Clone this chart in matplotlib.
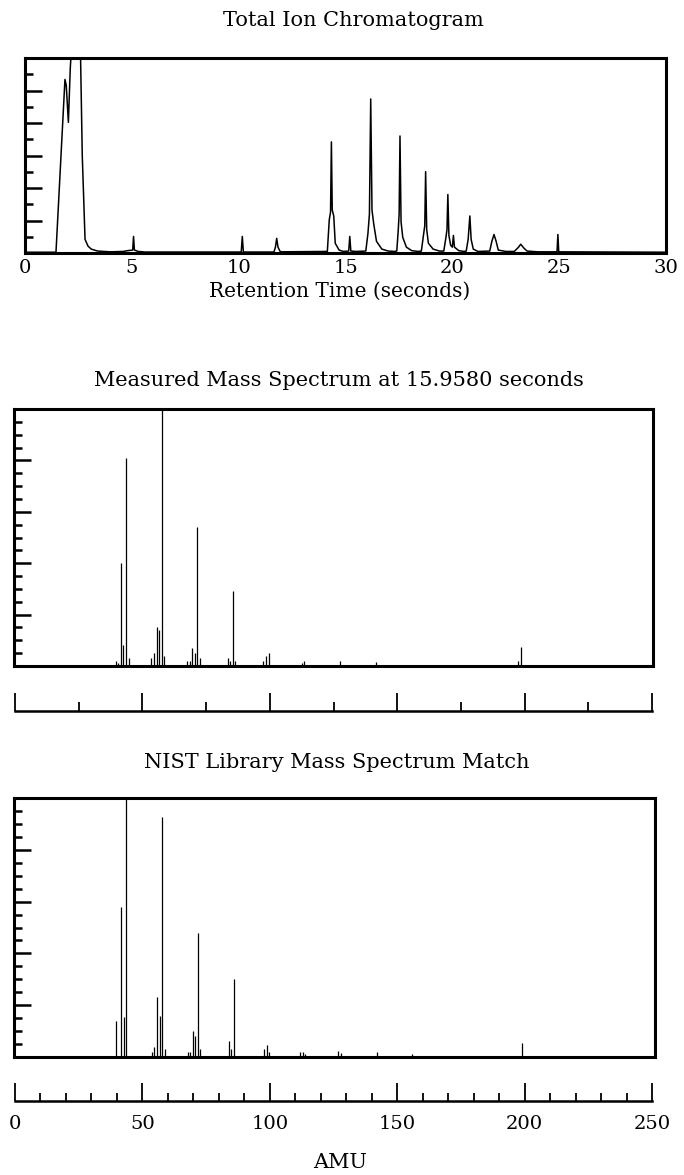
import matplotlib
matplotlib.use("Agg")
import matplotlib.pyplot as plt

# ---------------- data ----------------
# Total ion chromatogram trace (retention time in s, relative intensity)
tic_time = [0.0, 1.45, 1.87, 1.93, 2.03, 2.12, 2.26, 2.57, 2.68, 2.81, 2.95, 3.1, 3.4, 4.0,
            4.6, 4.8, 5.04, 5.08, 5.12, 5.3, 5.6,
            10.12, 10.17, 10.22,
            11.65, 11.72, 11.78, 11.84, 11.95,
            14.15, 14.24, 14.3, 14.34, 14.38, 14.45, 14.52, 14.7, 14.9,
            15.15, 15.2, 15.25, 15.5,
            15.95, 16.05, 16.12, 16.18, 16.24, 16.32, 16.45, 16.7, 17.0, 17.3,
            17.4, 17.47, 17.51, 17.55, 17.6, 17.68, 17.85, 18.1, 18.4,
            18.55, 18.66, 18.71, 18.75, 18.8, 18.88, 19.1, 19.4,
            19.6, 19.7, 19.75, 19.79, 19.84, 19.92, 20.0, 20.05, 20.1, 20.3, 20.55,
            20.65, 20.74, 20.82, 20.88, 20.98, 21.2,
            21.75, 21.85, 21.95, 22.05, 22.15, 22.5,
            22.9, 23.1, 23.2, 23.35, 23.5, 24.0,
            24.9, 24.94, 24.98, 30.0]
tic_intensity = [0.004, 0.004, 0.89, 0.86, 0.67, 0.95, 1.2, 1.2, 0.5, 0.07, 0.035, 0.02, 0.01, 0.006,
                 0.008, 0.012, 0.015, 0.085, 0.015, 0.008, 0.005,
                 0.005, 0.085, 0.005,
                 0.005, 0.03, 0.075, 0.03, 0.006,
                 0.008, 0.17, 0.21, 0.57, 0.22, 0.19, 0.05, 0.015, 0.008,
                 0.01, 0.085, 0.01, 0.008,
                 0.01, 0.1, 0.2, 0.79, 0.22, 0.15, 0.06, 0.02, 0.01, 0.008,
                 0.01, 0.12, 0.2, 0.60, 0.16, 0.08, 0.03, 0.012, 0.008,
                 0.01, 0.1, 0.14, 0.417, 0.12, 0.05, 0.02, 0.01,
                 0.01, 0.08, 0.12, 0.30, 0.09, 0.04, 0.03, 0.09, 0.03, 0.012, 0.008,
                 0.01, 0.07, 0.19, 0.07, 0.02, 0.008,
                 0.01, 0.06, 0.095, 0.06, 0.015, 0.008,
                 0.008, 0.03, 0.045, 0.025, 0.01, 0.006,
                 0.006, 0.095, 0.006, 0.004]
tic_ticks = [0, 5, 10, 15, 20, 25, 30]

# Measured mass spectrum at 15.9580 s (m/z, relative abundance)
meas_mz = [39, 40, 41, 42, 43, 44, 53, 54, 55, 56, 57, 58, 67, 68, 69, 70, 71, 72,
           83, 84, 85, 86, 97, 98, 99, 112, 113, 127, 141, 197, 198]
meas_int = [0.02, 0.01, 0.40, 0.08, 0.81, 0.03, 0.03, 0.05, 0.15, 0.14, 1.0, 0.04,
            0.02, 0.02, 0.07, 0.05, 0.54, 0.03, 0.03, 0.02, 0.29, 0.02,
            0.02, 0.04, 0.05, 0.01, 0.02, 0.02, 0.015, 0.02, 0.075]

# NIST library mass spectrum match
nist_mz = [39, 41, 42, 43, 53, 54, 55, 56, 57, 58, 67, 68, 69, 70, 71, 72,
           83, 84, 85, 97, 98, 99, 111, 112, 113, 126, 127, 141, 155, 198]
nist_int = [0.14, 0.58, 0.155, 1.0, 0.02, 0.04, 0.23, 0.16, 0.925, 0.03, 0.02, 0.02,
            0.10, 0.08, 0.48, 0.03, 0.06, 0.03, 0.30, 0.03, 0.046, 0.02,
            0.02, 0.02, 0.01, 0.025, 0.015, 0.02, 0.01, 0.055]

amu_major = [0, 50, 100, 150, 200, 250]
meas_minor = [25, 75, 125, 175, 225]
nist_minor = [10, 20, 30, 40, 60, 70, 80, 90, 110, 120, 130, 140,
              160, 170, 180, 190, 210, 220, 230, 240]

# ---------------- figure ----------------
W, H = 684, 1175
plt.rcParams["font.family"] = ["DejaVu Serif"]
fig = plt.figure(figsize=(W / 100, H / 100), dpi=100)


def ax_px(l, t, r, b):
    return fig.add_axes([l / W, 1 - b / H, (r - l) / W, (b - t) / H])


def txt(x, y, s, size):
    fig.text(x / W, 1 - y / H, s, ha="center", va="center", fontsize=size, color="black")


def box_style(ax, ndiv, every):
    for sp in ax.spines.values():
        sp.set_linewidth(2.2)
    ax.set_ylim(0, 1)
    major = [k / ndiv for k in range(1, ndiv) if k % every == 0]
    minor = [k / ndiv for k in range(1, ndiv) if k % every != 0]
    ax.set_yticks(major)
    ax.set_yticks(minor, minor=True)
    ax.tick_params(axis="y", which="both", direction="in", labelleft=False, width=1.8)
    ax.tick_params(axis="y", which="major", length=12)
    ax.tick_params(axis="y", which="minor", length=5.5)


# Top: total ion chromatogram
txt(353, 20, "Total Ion Chromatogram", 15)
ax1 = ax_px(25, 58, 666, 253)
ax1.plot(tic_time, tic_intensity, color="black", lw=1.1)
ax1.set_xlim(0, 30)
box_style(ax1, 12, 2)
ax1.set_xticks(tic_ticks)
ax1.set_xticklabels([str(t) for t in tic_ticks], fontsize=14)
ax1.tick_params(axis="x", length=0, pad=4)
txt(340, 291, "Retention Time (seconds)", 14.5)

# Middle: measured mass spectrum
txt(339, 380, "Measured Mass Spectrum at 15.9580 seconds", 15)
ax2 = ax_px(14, 409, 653, 666)
ax2.vlines(meas_mz, 0, meas_int, color="black", lw=0.9)
ax2.set_xlim(-1, 250)
ax2.set_xticks([])
box_style(ax2, 20, 4)

ax2s = ax_px(15, 686, 652, 711)
ax2s.set_xlim(0, 250)
ax2s.set_ylim(0, 1)
for k in ("left", "right", "top"):
    ax2s.spines[k].set_visible(False)
ax2s.spines["bottom"].set_linewidth(1.8)
ax2s.set_yticks([])
ax2s.set_xticks(amu_major)
ax2s.set_xticks(meas_minor, minor=True)
ax2s.tick_params(axis="x", which="both", direction="in", labelbottom=False, width=1.3)
ax2s.tick_params(axis="x", which="major", length=13)
ax2s.tick_params(axis="x", which="minor", length=6.5)
ax2s.patch.set_alpha(0)

# Bottom: NIST library match
txt(337, 762, "NIST Library Mass Spectrum Match", 15)
ax3 = ax_px(14, 798, 655, 1057)
ax3.vlines(nist_mz, 0, nist_int, color="black", lw=0.9)
ax3.set_xlim(-1, 250)
ax3.set_xticks([])
box_style(ax3, 20, 4)

ax3s = ax_px(15, 1076, 652, 1101)
ax3s.set_xlim(0, 250)
ax3s.set_ylim(0, 1)
for k in ("left", "right", "top"):
    ax3s.spines[k].set_visible(False)
ax3s.spines["bottom"].set_linewidth(1.8)
ax3s.set_yticks([])
ax3s.set_xticks(amu_major)
ax3s.set_xticklabels([str(v) for v in amu_major], fontsize=14)
ax3s.set_xticks(nist_minor, minor=True)
ax3s.tick_params(axis="x", which="both", direction="in", width=1.3, pad=10)
ax3s.tick_params(axis="x", which="major", length=13)
ax3s.tick_params(axis="x", which="minor", length=5.5)
ax3s.patch.set_alpha(0)
txt(340, 1163, "AMU", 15)

fig.savefig("out.png", dpi=100, facecolor="white")
